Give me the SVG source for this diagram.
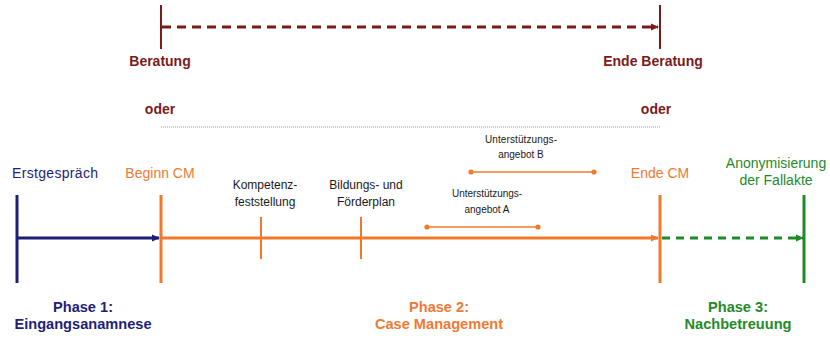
<svg xmlns="http://www.w3.org/2000/svg" width="830" height="338" viewBox="0 0 830 338">
<style>
text{font-family:"Liberation Sans",Arial,sans-serif}
.b{font-weight:bold;font-size:14px}
.p{font-weight:bold;font-size:14.6px}
.m{font-size:14px}
.s{font-size:12px;fill:#1a1a1a}
.xs{font-size:10px;fill:#1a1a1a}
.mar{fill:#7a1a1a}
.navy{fill:#1e1e78}
.or{fill:#ee7a34}
.gr{fill:#1f8a2a}
</style>
<defs>
<marker id="aN" markerWidth="8" markerHeight="8" refX="7" refY="4" orient="auto" markerUnits="userSpaceOnUse"><path d="M0,0.5 L8,4 L0,7.5Z" fill="#1e1e78"/></marker>
<marker id="aO" markerWidth="8" markerHeight="8" refX="7" refY="4" orient="auto" markerUnits="userSpaceOnUse"><path d="M0,0.5 L8,4 L0,7.5Z" fill="#f07a2a"/></marker>
<marker id="aG" markerWidth="8" markerHeight="8" refX="7" refY="4" orient="auto" markerUnits="userSpaceOnUse"><path d="M0,0.5 L8,4 L0,7.5Z" fill="#1f8a2a"/></marker>
<marker id="aM" markerWidth="8" markerHeight="8" refX="7" refY="4" orient="auto" markerUnits="userSpaceOnUse"><path d="M0,0.5 L8,4 L0,7.5Z" fill="#7a1a1a"/></marker>
<marker id="dot" markerWidth="6" markerHeight="6" refX="3" refY="3" markerUnits="userSpaceOnUse"><circle cx="3" cy="3" r="2.6" fill="#f07a2a"/></marker>
</defs>

<g id="connectors" fill="none">
<line x1="17" y1="238" x2="159" y2="238" stroke="#1e1e78" stroke-width="3" marker-end="url(#aN)"/>
<line x1="161" y1="238" x2="658" y2="238" stroke="#f07a2a" stroke-width="3" marker-end="url(#aO)"/>
<line x1="662" y1="238" x2="803" y2="238" stroke="#1f8a2a" stroke-width="3" stroke-dasharray="8,6" marker-end="url(#aG)"/>
<line x1="162" y1="27" x2="658" y2="27" stroke="#7a1a1a" stroke-width="3" stroke-dasharray="9,6" marker-end="url(#aM)"/>
<line x1="161" y1="127" x2="660" y2="127" stroke="#9a9a9a" stroke-width="1" stroke-dasharray="1,1"/>
<line x1="471" y1="172" x2="594" y2="172" stroke="#f07a2a" stroke-width="1.5" marker-start="url(#dot)" marker-end="url(#dot)"/>
<line x1="427" y1="227" x2="538" y2="227" stroke="#f07a2a" stroke-width="1.5" marker-start="url(#dot)" marker-end="url(#dot)"/>
</g>

<g id="beratung">
<line x1="161" y1="5" x2="161" y2="49" stroke="#7a1a1a" stroke-width="2"/>
<text class="b mar" x="160" y="66" text-anchor="middle">Beratung</text>
</g>
<g id="ende-beratung">
<line x1="660" y1="5" x2="660" y2="49" stroke="#7a1a1a" stroke-width="2"/>
<text class="b mar" x="653" y="66" text-anchor="middle">Ende Beratung</text>
</g>
<g id="oder-1"><text class="b mar" x="160" y="114" text-anchor="middle">oder</text></g>
<g id="oder-2"><text class="b mar" x="656" y="114" text-anchor="middle">oder</text></g>

<g id="erstgespraech">
<line x1="17" y1="195" x2="17" y2="283" stroke="#1e1e78" stroke-width="3"/>
<text class="m navy" x="12" y="178" textLength="86">Erstgespräch</text>
</g>
<g id="beginn-cm">
<line x1="161" y1="195" x2="161" y2="283" stroke="#f07a2a" stroke-width="3"/>
<text class="m or" x="160" y="178" text-anchor="middle">Beginn CM</text>
</g>
<g id="kompetenz">
<line x1="261" y1="217" x2="261" y2="259" stroke="#f07a2a" stroke-width="2"/>
<text class="s" x="265" y="189" text-anchor="middle">Kompetenz-</text>
<text class="s" x="265" y="206" text-anchor="middle">feststellung</text>
</g>
<g id="bildungsplan">
<line x1="361" y1="217" x2="361" y2="259" stroke="#f07a2a" stroke-width="2"/>
<text class="s" x="366" y="189" text-anchor="middle">Bildungs- und</text>
<text class="s" x="366" y="206" text-anchor="middle">Förderplan</text>
</g>
<g id="angebot-b">
<text class="xs" x="521" y="143" text-anchor="middle" textLength="72">Unterstützungs-</text>
<text class="xs" x="521" y="158" text-anchor="middle">angebot B</text>
</g>
<g id="angebot-a">
<text class="xs" x="487" y="197" text-anchor="middle" textLength="70">Unterstützungs-</text>
<text class="xs" x="487" y="213" text-anchor="middle">angebot A</text>
</g>
<g id="ende-cm">
<line x1="660" y1="195" x2="660" y2="283" stroke="#f07a2a" stroke-width="3"/>
<text class="m or" x="660" y="178" text-anchor="middle">Ende CM</text>
</g>
<g id="anonymisierung">
<line x1="804" y1="195" x2="804" y2="283" stroke="#1f8a2a" stroke-width="3"/>
<text class="m gr" x="776" y="168" text-anchor="middle">Anonymisierung</text>
<text class="m gr" x="776" y="185" text-anchor="middle">der Fallakte</text>
</g>

<g id="phase-1">
<text class="p navy" x="83" y="312" text-anchor="middle">Phase 1:</text>
<text class="p navy" x="83" y="329" text-anchor="middle">Eingangsanamnese</text>
</g>
<g id="phase-2">
<text class="p or" x="439" y="312" text-anchor="middle">Phase 2:</text>
<text class="p or" x="439" y="329" text-anchor="middle">Case Management</text>
</g>
<g id="phase-3">
<text class="p gr" x="738" y="312" text-anchor="middle">Phase 3:</text>
<text class="p gr" x="738" y="329" text-anchor="middle">Nachbetreuung</text>
</g>
</svg>
